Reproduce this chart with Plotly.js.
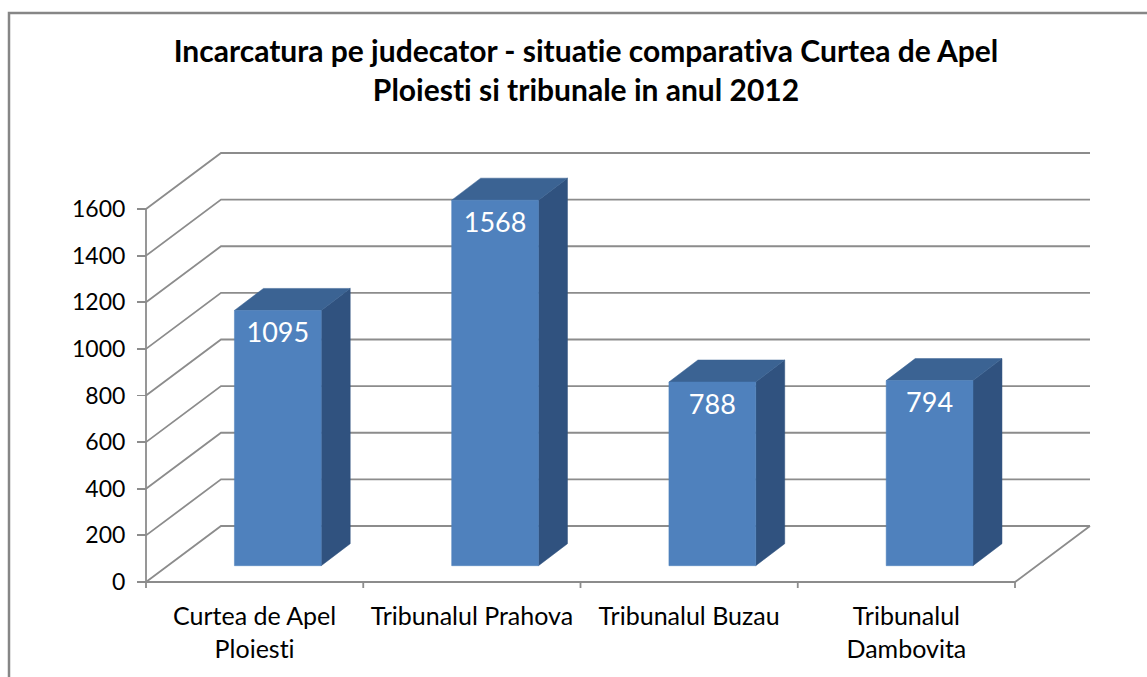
<!DOCTYPE html>
<html>
<head>
<meta charset="utf-8">
<script src="https://cdn.plot.ly/plotly-3.0.1.min.js"></script>
<style>
html,body{margin:0;padding:0;background:#fff;}
#chart{width:1147px;height:677px;}
#chart text{font-variant-ligatures:none;font-feature-settings:"liga" 0, "clig" 0;}
</style>
</head>
<body>
<div id="chart"></div>
<script>
// ---- data ----
const categories = ["Curtea de Apel<br>Ploiesti", "Tribunalul Prahova", "Tribunalul Buzau", "Tribunalul<br>Dambovita"];
const values = [1095, 1568, 788, 794];
const yTicks = [0, 200, 400, 600, 800, 1000, 1200, 1400, 1600];
const titleText = "Incarcatura pe judecator - situatie comparativa Curtea de Apel<br>Ploiesti si tribunale in anul 2012";

// ---- geometry (pixel styling converted to axis units) ----
const W = 1147, H = 677;
const ml = 130, mr = 37, mt = 140, mb = 77;
const pxPerX = 217.25;          // px per category
const pxPerY = 0.233125;        // px per value unit
const xMin = -0.5 - (146 - ml) / pxPerX;
const xMax = xMin + (W - ml - mr) / pxPerX;
const yMin = -(H - mb - 582) / pxPerY;
const yMax = yMin + (H - mt - mb) / pxPerY;

const wallDX = 75 / pxPerX, wallDY = 56 / pxPerY;   // back wall offset
const barDX = 29 / pxPerX, barDY = 22 / pxPerY;     // bar depth
const barShift = 23.2 / pxPerX;                      // bar front face shift right
const barBase = 16.3 / pxPerY;                        // bar front face lift
const barHalf = 43.4 / pxPerX;
const tickLenX = 6 / pxPerY;
const labelDrop = 25 / pxPerY;

const n = categories.length;
const xLeft = -0.5, xRight = n - 0.5;
const yTop = yTicks[yTicks.length - 1];

// gridlines / walls
const gx = [], gy = [];
yTicks.forEach(v => {
  gx.push(xLeft, xLeft + wallDX, xRight + wallDX, null);
  gy.push(v, v + wallDY, v + wallDY, null);
});
// floor right edge + front edge
gx.push(xLeft, xRight, xRight + wallDX, null);
gy.push(0, 0, wallDY, null);
// left axis line
gx.push(xLeft, xLeft, null);
gy.push(0, yTop, null);
// x ticks at category boundaries
for (let i = 0; i <= n; i++) {
  gx.push(xLeft + i, xLeft + i, null);
  gy.push(0, -tickLenX, null);
}

// bar faces
const fx = [], fy = [], tx = [], ty = [], sx = [], sy = [], lx = [], ly = [];
values.forEach((v, i) => {
  const c = i + barShift;
  const x0 = c - barHalf, x1 = c + barHalf;
  const b = barBase, t = barBase + v;
  fx.push(x0, x1, x1, x0, x0, null); fy.push(b, b, t, t, b, null);
  tx.push(x0, x1, x1 + barDX, x0 + barDX, x0, null); ty.push(t, t, t + barDY, t + barDY, t, null);
  sx.push(x1, x1 + barDX, x1 + barDX, x1, x1, null); sy.push(b, b + barDY, t + barDY, t, b, null);
  lx.push(c); ly.push(t - labelDrop);
});

const gridColor = '#8C8C8C';
const traces = [
  {x: gx, y: gy, mode: 'lines', line: {color: gridColor, width: 1.8}, hoverinfo: 'skip', showlegend: false},
  {x: sx, y: sy, mode: 'lines', fill: 'toself', fillcolor: '#30527F', line: {color: '#30527F', width: 0.5}, hoverinfo: 'skip', showlegend: false},
  {x: tx, y: ty, mode: 'lines', fill: 'toself', fillcolor: '#3B6393', line: {color: '#3B6393', width: 0.5}, hoverinfo: 'skip', showlegend: false},
  {x: fx, y: fy, mode: 'lines', fill: 'toself', fillcolor: '#4F81BD', line: {color: '#4F81BD', width: 0.5}, hoverinfo: 'skip', showlegend: false},
  {x: lx, y: ly, mode: 'text', text: values.map(String), textposition: 'middle center',
   textfont: {family: 'Lato, sans-serif', size: 27, color: '#FFFFFF'}, hoverinfo: 'skip', showlegend: false}
];

const layout = {
  width: W, height: H,
  margin: {l: ml, r: mr, t: mt, b: mb, pad: 0},
  paper_bgcolor: '#FFFFFF', plot_bgcolor: 'rgba(0,0,0,0)',
  hovermode: false,
  title: {
    text: titleText,
    font: {family: 'Lato, sans-serif', size: 30, color: '#000000', weight: 'bold'},
    x: 586 / W, xanchor: 'center', xref: 'container',
    y: 1 - 62 / H, yanchor: 'top', yref: 'container'
  },
  xaxis: {
    range: [xMin, xMax], showgrid: false, zeroline: false, showline: false,
    tickmode: 'array', tickvals: categories.map((c, i) => i), ticktext: categories,
    ticks: '', anchor: 'free', position: (H - mb - 582) / (H - mt - mb),
    ticklabelstandoff: 17,
    tickfont: {family: 'Lato, sans-serif', size: 25, color: '#000000'}
  },
  yaxis: {
    range: [yMin, yMax], showgrid: false, zeroline: false, showline: false,
    tickmode: 'array', tickvals: yTicks, ticktext: yTicks.map(String),
    ticks: 'outside', ticklen: 9, tickwidth: 1.8, tickcolor: gridColor,
    anchor: 'free', position: (146 - ml) / (W - ml - mr),
    ticklabelstandoff: 7,
    tickfont: {family: 'Lato, sans-serif', size: 23, color: '#000000'}
  },
  shapes: [{
    type: 'rect', xref: 'paper', yref: 'paper',
    x0: (9 - ml) / (W - ml - mr), x1: 1.5,
    y0: -0.5, y1: (H - mb - 13) / (H - mt - mb),
    line: {color: '#868686', width: 2.5}, fillcolor: 'rgba(0,0,0,0)', layer: 'below'
  }]
};

Plotly.newPlot('chart', traces, layout, {displayModeBar: false, staticPlot: true});
</script>
</body>
</html>
